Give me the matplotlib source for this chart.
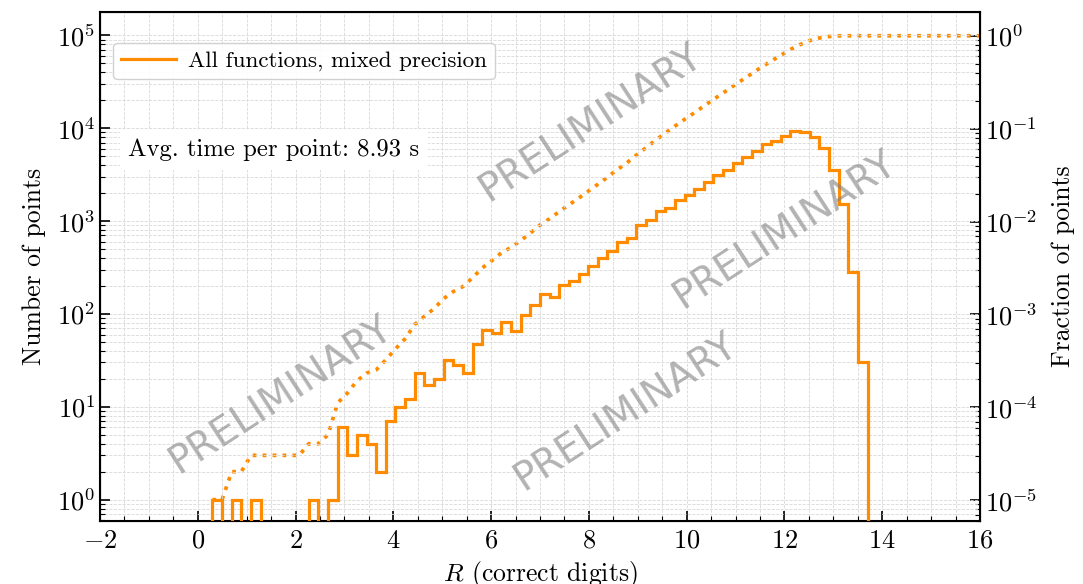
import numpy as np
import matplotlib.pyplot as plt
from matplotlib.ticker import MultipleLocator, LogLocator, NullFormatter

plt.rcParams['font.family'] = 'serif'
plt.rcParams['font.serif'] = ['cmr10']
plt.rcParams['mathtext.fontset'] = 'cm'
plt.rcParams['axes.formatter.use_mathtext'] = True

# Histogram of correct digits R, 68 equal bins between the min and max R.
r_min, r_max = 0.3, 13.7
counts = [1, 0, 1, 0, 1, 0, 0, 0, 0, 0, 1, 0, 1,
          6, 3, 5, 4, 2,
          7, 10, 12, 23, 17, 20, 32, 28, 23, 48, 67, 62, 81, 65, 97, 125, 164, 153,
          205, 228, 269, 328, 397, 480, 600, 650, 906, 1025, 1290, 1390, 1682, 1905,
          2190, 2650, 3125, 3535, 4235, 4920, 5700, 6730, 7310, 8200,
          9360, 9140, 7940, 6040, 3535, 1512, 281, 30]
avg_time = 8.93
label = 'All functions, mixed precision'
xmin, xmax = -2, 16

edges = np.linspace(r_min, r_max, len(counts) + 1)
total = sum(counts)

# Cumulative fraction, carried on flat to the right edge of the plot.
cum_x = np.append(edges[:-1], xmax)
cum_y = np.append(np.cumsum(counts) / total, 1.0)

fig = plt.figure(figsize=(10.83, 5.84), dpi=100)
ax = fig.add_axes([0.0923, 0.108, 0.8126, 0.871])

orange = '#ff8c00'
ax.stairs(counts, edges, color=orange, lw=2.3, label=label, zorder=3)
ax.set_yscale('log')
ax.set_xlim(xmin, xmax)
ylo, yhi = 0.59, 1.77e5
ax.set_ylim(ylo, yhi)

ax2 = ax.twinx()
ax2.set_yscale('log')
ax2.set_ylim(ylo / total, yhi / total)
ax2.plot(cum_x, cum_y, ls=':', color=orange, lw=2.7, zorder=3)

# Ticks and grid.
ax.xaxis.set_major_locator(MultipleLocator(2))
ax.xaxis.set_minor_locator(MultipleLocator(0.5))
for a in (ax, ax2):
    a.yaxis.set_major_locator(LogLocator(base=10, numticks=20))
    a.yaxis.set_minor_locator(LogLocator(base=10, subs=np.arange(2, 10), numticks=20))
    a.yaxis.set_minor_formatter(NullFormatter())
    a.tick_params(which='major', direction='in', length=7, width=1.2, labelsize=19)
    a.tick_params(which='minor', direction='in', length=3.5, width=0.8)
ax.tick_params(axis='y', which='both', right=False)
ax2.tick_params(axis='y', which='both', left=False)
ax.tick_params(axis='x', which='both', top=False, pad=6)
ax.grid(which='both', color='#d8d8d8', ls='--', lw=0.6)
for s in ax.spines.values():
    s.set_linewidth(1.5)
ax.set_zorder(ax2.get_zorder() + 1)
ax.patch.set_visible(False)

ax.set_xlabel('$R$ (correct digits)', fontsize=18.5)
ax.set_ylabel('Number of points', fontsize=18.5, labelpad=8)
ax2.set_ylabel('Fraction of points', fontsize=18.5, labelpad=10)

leg = ax.legend(loc='upper left', bbox_to_anchor=(0.0148, 0.94), borderaxespad=0,
                fontsize=16.6, fancybox=True, framealpha=0.9, edgecolor='#cccccc',
                handlelength=2.4, handletextpad=0.5, borderpad=0.35)

ax.text(0.032, 0.729, f'Avg. time per point: {avg_time} s', transform=ax.transAxes,
        fontsize=17.8, va='center', ha='left',
        bbox=dict(facecolor='white', edgecolor='none', pad=6))

# Watermarks.
marks = [(0.557, 0.784), (0.778, 0.572), (0.205, 0.248), (0.597, 0.214)]
for mx, my in marks:
    ax.text(mx, my, 'PRELIMINARY', transform=ax.transAxes, rotation=33,
            ha='center', va='center', fontsize=28, color='gray', alpha=0.6,
            family='DejaVu Sans', zorder=5)

fig.savefig('out.png', dpi=100)
